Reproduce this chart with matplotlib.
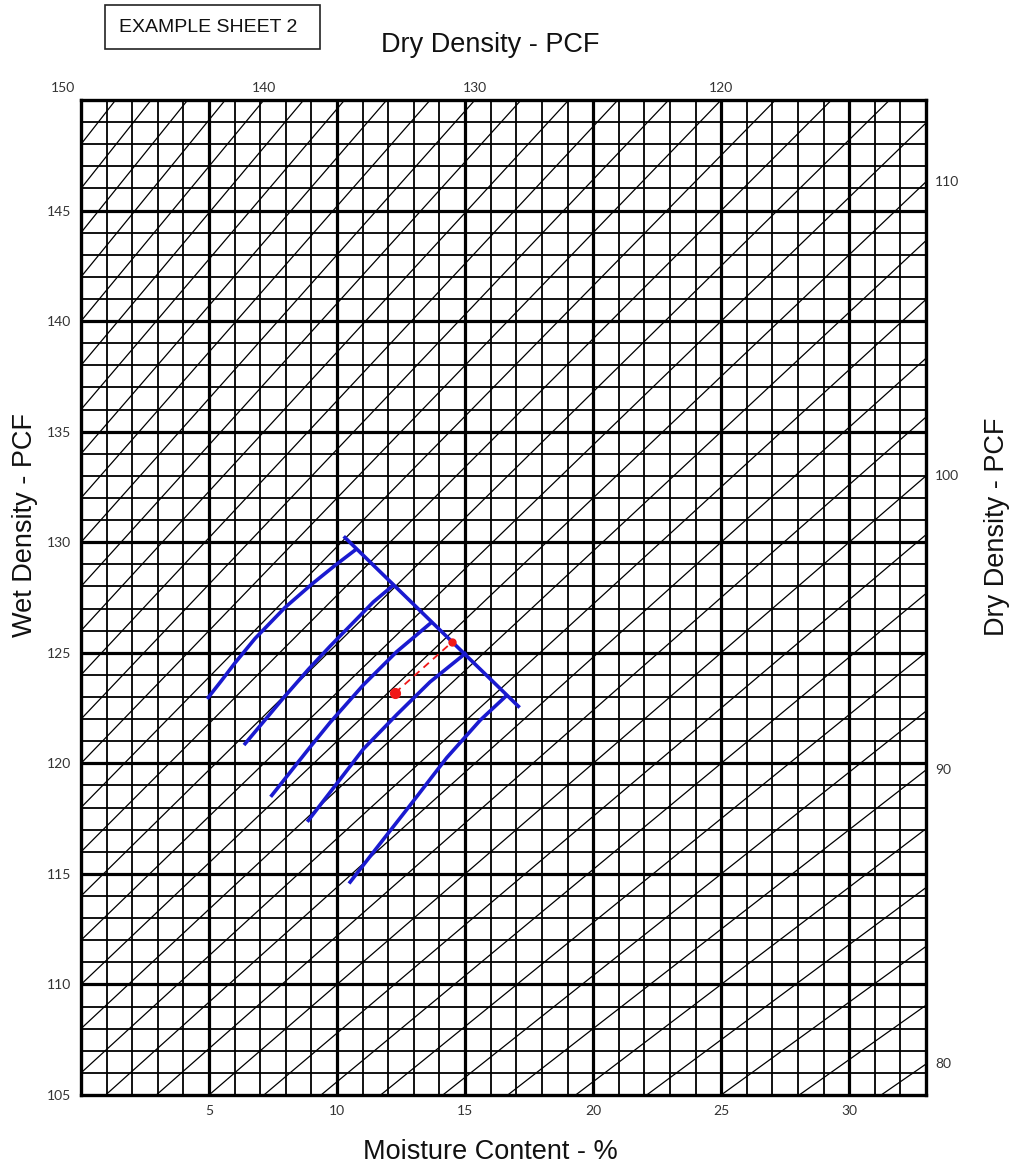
import numpy as np
import matplotlib.pyplot as plt
from matplotlib.patches import Rectangle

# taille de l'image cible en pixels
W, H = 1011, 1166

# graduations
moisture_ticks = [5, 10, 15, 20, 25, 30]
wet_ticks = [105, 110, 115, 120, 125, 130, 135, 140, 145]
dry_top_ticks = [150, 140, 130, 120]
dry_right_ticks = [80, 90, 100, 110]
dry_lines = list(range(80, 152, 2))  # lignes de densite seche (pcf)

# courbes bleues (teneur en eau %, densite humide pcf)
curve1_w = [4.97, 5.50, 6.02, 6.80, 7.97, 9.01, 9.92, 10.70]
curve1_wet = [122.98, 123.76, 124.55, 125.65, 127.05, 128.10, 128.95, 129.64]
curve2_w = [6.41, 7.90, 8.88, 9.73, 11.42, 12.19]
curve2_wet = [120.89, 122.95, 124.25, 125.30, 127.30, 128.05]
curve3_w = [7.45, 8.95, 9.73, 11.03, 12.33, 13.63]
curve3_wet = [118.55, 120.74, 121.85, 123.55, 125.05, 126.32]
curve4_w = [8.88, 10.00, 11.03, 12.33, 13.63, 15.00]
curve4_wet = [117.42, 119.10, 120.65, 122.20, 123.68, 124.96]
curve5_w = [10.51, 11.68, 12.85, 14.28, 15.59, 16.56]
curve5_wet = [114.63, 116.37, 118.10, 120.25, 121.95, 123.00]
limit_w = [10.31, 17.08]
limit_wet = [130.21, 122.58]

# point rouge et projection
red_w = [12.27, 14.50]
red_wet = [123.19, 125.49]

fig = plt.figure(figsize=(W / 100, H / 100), dpi=100)
ax = fig.add_axes([81 / W, 1 - 1095 / H, 845 / W, 995 / H])
xmax = 33
ax.set_xlim(0, xmax)
ax.set_ylim(105, 150)

# quadrillage
for v in range(1, xmax):
    ax.axvline(v, color='black', lw=2.3 if v % 5 == 0 else 1.3, zorder=1)
for h in range(106, 150):
    ax.axhline(h, color='black', lw=2.3 if h % 5 == 0 else 1.3, zorder=1)

# lignes de densite seche : humide = sec * (1 + w/100)
w_edge = np.array([0, xmax])
for d in dry_lines:
    ax.plot(w_edge, d * (1 + w_edge / 100), color='black', lw=0.9, zorder=1)

blue = '#1a1ad0'
for cw, cy in [(curve1_w, curve1_wet), (curve2_w, curve2_wet), (curve3_w, curve3_wet),
               (curve4_w, curve4_wet), (curve5_w, curve5_wet), (limit_w, limit_wet)]:
    ax.plot(cw, cy, color=blue, lw=2.6, solid_joinstyle='round', zorder=3)

ax.plot(red_w, red_wet, color='#f01818', lw=1.3, ls=(0, (4, 3)), zorder=4)
ax.plot(red_w[0], red_wet[0], 'o', color='#f01818', ms=7, zorder=5)
ax.plot(red_w[1], red_wet[1], 'o', color='#f01818', ms=5, zorder=5)

for s in ax.spines.values():
    s.set_linewidth(2.4)

ax.set_xticks(moisture_ticks)
ax.set_yticks(wet_ticks)
ax.tick_params(length=0, pad=7)
for lab in ax.get_xticklabels() + ax.get_yticklabels():
    lab.set_fontfamily('Lato')
    lab.set_fontsize(10)
    lab.set_color('#333333')

# etiquettes densite seche en haut (w ou la ligne coupe 150)
ytop = ax.get_ylim()[1]
for d in dry_top_ticks:
    wpos = (ytop / d - 1) * 100
    if d == ytop:
        dx, ha = -6, 'right'
    else:
        dx, ha = 0, 'center'
    ax.annotate(str(d), xy=(wpos, 1), xycoords=('data', 'axes fraction'),
                xytext=(dx, 6), textcoords='offset pixels', ha=ha, va='bottom',
                fontfamily='Lato', fontsize=10, color='#333333')

# etiquettes densite seche a droite
for d in dry_right_ticks:
    ax.annotate(str(d), xy=(1, d * (1 + xmax / 100)), xycoords=('axes fraction', 'data'),
                xytext=(9, 0), textcoords='offset pixels', ha='left', va='center',
                fontfamily='Lato', fontsize=10, color='#333333')

title_font = dict(family='Liberation Sans', size=19.5, color='#111111')
fig.text(490 / W, 1 - 45 / H, 'Dry Density - PCF', ha='center', va='center', **title_font)
fig.text(490 / W, 1 - 1152 / H, 'Moisture Content - %', ha='center', va='center', **title_font)
fig.text(25 / W, 1 - 525 / H, 'Wet Density - PCF', ha='center', va='center', rotation=90, **title_font)
fig.text(997 / W, 1 - 527 / H, 'Dry Density - PCF', ha='center', va='center', rotation=90, **title_font)

# encadre
fig.patches.append(Rectangle((105 / W, 1 - 49 / H), 215 / W, 44 / H, transform=fig.transFigure,
                             fill=False, edgecolor='#222222', lw=1.2))
fig.text(208 / W, 1 - 27 / H, 'EXAMPLE SHEET 2', ha='center', va='center',
         family='Liberation Sans', size=14, color='#111111')

fig.savefig('out.png', dpi=100)
